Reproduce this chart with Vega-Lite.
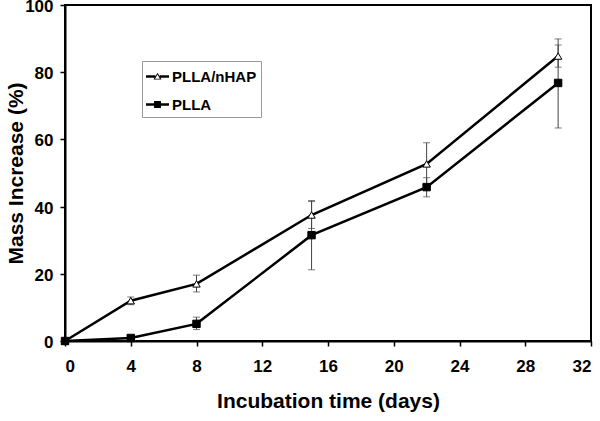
{
  "$schema": "https://vega.github.io/schema/vega-lite/v6.json",
  "width": 526,
  "height": 336,
  "autosize": {"type": "none"},
  "padding": {"left": 65, "top": 5, "right": 9, "bottom": 80},
  "background": "white",
  "config": {
    "view": {"stroke": "black", "strokeWidth": 2},
    "font": "Liberation Sans",
    "axis": {
      "grid": false,
      "domainColor": "black",
      "domainWidth": 2,
      "tickColor": "black",
      "tickWidth": 1.5,
      "tickSize": 5,
      "labelFont": "Liberation Sans",
      "labelFontWeight": "bold",
      "labelFontSize": 17,
      "labelColor": "black",
      "titleFont": "Liberation Sans",
      "titleFontWeight": "bold",
      "titleFontSize": 21,
      "titleColor": "black"
    }
  },
  "data": {
    "values": [
      {"series": "PLLA/nHAP", "day": 0, "mass": 0, "lo": 0, "hi": 0},
      {"series": "PLLA/nHAP", "day": 4, "mass": 12.0, "lo": 10.8, "hi": 13.1},
      {"series": "PLLA/nHAP", "day": 8, "mass": 17.0, "lo": 14.6, "hi": 19.6},
      {"series": "PLLA/nHAP", "day": 15, "mass": 37.5, "lo": 33.5, "hi": 41.5},
      {"series": "PLLA/nHAP", "day": 22, "mass": 52.7, "lo": 46.4, "hi": 59.0},
      {"series": "PLLA/nHAP", "day": 30, "mass": 84.8, "lo": 81.5, "hi": 89.9},
      {"series": "PLLA", "day": 0, "mass": 0, "lo": 0, "hi": 0},
      {"series": "PLLA", "day": 4, "mass": 0.9, "lo": 0.5, "hi": 1.3},
      {"series": "PLLA", "day": 8, "mass": 5.1, "lo": 3.4, "hi": 7.1},
      {"series": "PLLA", "day": 15, "mass": 31.5, "lo": 21.2, "hi": 41.8},
      {"series": "PLLA", "day": 22, "mass": 45.8, "lo": 42.9, "hi": 48.6},
      {"series": "PLLA", "day": 30, "mass": 76.8, "lo": 63.4, "hi": 88.1}
    ]
  },
  "resolve": {"scale": {"shape": "independent", "fill": "independent"}, "legend": {"shape": "independent", "fill": "independent"}},
  "layer": [
    {
      "mark": {"type": "rule", "color": "#444", "strokeWidth": 1},
      "encoding": {
        "x": {"field": "day", "type": "quantitative", "scale": {"domain": [0, 32], "nice": false}},
        "y": {"field": "lo", "type": "quantitative"},
        "y2": {"field": "hi"}
      }
    },
    {
      "mark": {"type": "tick", "orient": "horizontal", "color": "#444", "size": 7, "thickness": 1},
      "encoding": {
        "x": {"field": "day", "type": "quantitative"},
        "y": {"field": "lo", "type": "quantitative"}
      }
    },
    {
      "mark": {"type": "tick", "orient": "horizontal", "color": "#444", "size": 7, "thickness": 1},
      "encoding": {
        "x": {"field": "day", "type": "quantitative"},
        "y": {"field": "hi", "type": "quantitative"}
      }
    },
    {
      "mark": {"type": "line", "color": "black", "strokeWidth": 2.5},
      "encoding": {
        "x": {"field": "day", "type": "quantitative"},
        "y": {"field": "mass", "type": "quantitative"},
        "detail": {"field": "series"}
      }
    },
    {
      "mark": {"type": "point", "filled": false, "stroke": "black", "strokeWidth": 1, "opacity": 1, "size": 55},
      "encoding": {
        "x": {
          "field": "day", "type": "quantitative",
          "scale": {"domain": [0, 32], "nice": false},
          "axis": {"values": [0, 4, 8, 12, 16, 20, 24, 28, 32], "labelPadding": 12, "title": "Incubation time (days)", "titlePadding": 16}
        },
        "y": {
          "field": "mass", "type": "quantitative",
          "scale": {"domain": [0, 100], "nice": false},
          "axis": {"values": [0, 20, 40, 60, 80, 100], "labelPadding": 7, "labelOffset": 1.5, "title": "Mass Increase (%)", "titlePadding": -2}
        },
        "shape": {
          "field": "series", "type": "nominal",
          "scale": {"domain": ["PLLA/nHAP", "PLLA"], "range": ["triangle-up", "square"]},
          "legend": null
        },
        "fill": {
          "field": "series", "type": "nominal",
          "scale": {"domain": ["PLLA/nHAP", "PLLA"], "range": ["white", "black"]},
          "legend": null
        }
      }
    },
    {
      "transform": [{"filter": "datum.day < 0"}],
      "mark": {"type": "point", "filled": true, "fill": "black", "strokeWidth": 0, "opacity": 1},
      "encoding": {
        "x": {"field": "day", "type": "quantitative"},
        "y": {"field": "mass", "type": "quantitative"},
        "shape": {
          "field": "series", "type": "nominal",
          "scale": {
            "domain": ["PLLA/nHAP", "PLLA"],
            "range": [
              "M-1,-0.11H-0.19V0.11H-1Z M0.19,-0.11H1V0.11H0.19Z M0,-0.33L0.35,0.27L-0.35,0.27Z M0,-0.17L-0.21,0.19L0.21,0.19Z",
              "M-1,-0.11H1V0.11H-1Z M-0.3,-0.3H0.3V0.3H-0.3Z"
            ]
          },
          "legend": {
            "title": null,
            "orient": "none",
            "legendX": 77,
            "legendY": 56,
            "padding": 4,
            "rowPadding": 8,
            "strokeColor": "#999",
            "fillColor": "white",
            "symbolSize": 529,
            "symbolFillColor": "black",
            "symbolStrokeWidth": 0,
            "labelOffset": 3,
            "labelFont": "Liberation Sans",
            "labelFontWeight": "bold",
            "labelFontSize": 15,
            "labelColor": "black"
          }
        }
      }
    }
  ]
}
